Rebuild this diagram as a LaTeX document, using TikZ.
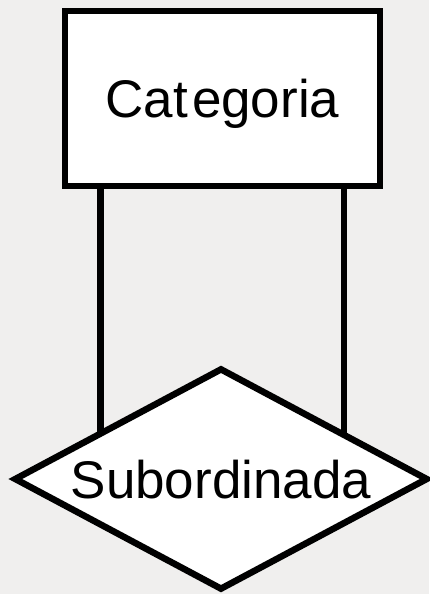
\documentclass[tikz,border=0pt]{standalone}
\usepackage{fontspec}
\setmainfont{Liberation Sans}
\usetikzlibrary{shapes.geometric,backgrounds}
\definecolor{bgcol}{HTML}{F0EFEE}
\tikzset{
  lbl/.style={font=\fontsize{53}{60}\selectfont, text height=38pt, text depth=0pt},
  entity/.style={lbl, draw=black, fill=white, line width=6.5pt, inner sep=0pt,
    minimum width=315pt, minimum height=175pt},
  relation/.style={lbl, diamond, aspect=1.865, draw=black, fill=white, line width=6.5pt, inner sep=0pt,
    minimum width=414pt, minimum height=222pt},
  conn/.style={draw=black, line width=6.5pt}
}
\begin{document}
\begin{tikzpicture}[x=1pt,y=-1pt]
\useasboundingbox (0,0) rectangle (429,594);
\node[entity] (cat) at (222.5,98.5) {Cat\kern4pt egoria};
\node[relation] (sub) at (221,479) {Subordinada};
\begin{pgfonlayer}{background}
\fill[bgcol] (0,0) rectangle (429,594);
\draw[conn] ([xshift=-122pt]cat.south) -- ([xshift=-122pt]cat.south |- sub.center);
\draw[conn] ([xshift=121.5pt]cat.south) -- ([xshift=121.5pt]cat.south |- sub.center);
\end{pgfonlayer}
\end{tikzpicture}
\end{document}
